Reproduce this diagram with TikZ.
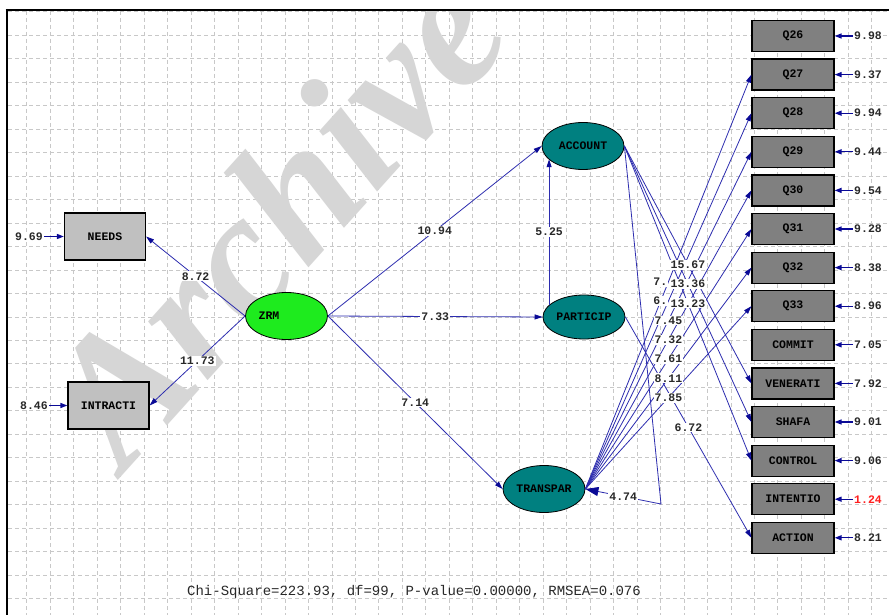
\documentclass[tikz,border=0pt]{standalone}
\usepackage{fontspec}
\setmonofont{Liberation Mono}
\newfontfamily\wmfont{Liberation Serif}
\usetikzlibrary{shapes.geometric,arrows.meta,calc}
\definecolor{lineblue}{RGB}{45,45,175}
\definecolor{headblue}{RGB}{10,10,150}
\definecolor{zrmgreen}{RGB}{30,235,30}
\definecolor{tealnode}{RGB}{0,128,128}
\definecolor{lightbox}{RGB}{192,192,192}
\definecolor{darkbox}{RGB}{128,128,128}
\definecolor{gridgray}{RGB}{200,200,200}
\definecolor{wmgray}{RGB}{214,214,214}
\definecolor{txtdark}{RGB}{40,40,40}
\definecolor{errred}{RGB}{255,30,30}
\newcommand\lisfont{\ttfamily\bfseries\fontsize{11.5}{12}\selectfont}
\tikzset{
  gridline/.style={draw=gridgray, line width=0.6pt, dash pattern=on 4pt off 3pt},
  latent/.style={ellipse, draw=black, line width=0.8pt, fill=tealnode, minimum width=82pt, minimum height=47pt, inner sep=0pt, font=\lisfont},
  zrmnode/.style={latent, fill=zrmgreen},
  obsleft/.style={rectangle, draw=black, line width=1.2pt, fill=lightbox, minimum width=81pt, minimum height=47pt, inner sep=0pt, font=\lisfont},
  obsright/.style={rectangle, draw=black, line width=1.2pt, fill=darkbox, minimum width=82pt, minimum height=31pt, inner sep=0pt, font=\lisfont},
  plainlab/.style={inner sep=0pt, font=\lisfont},
  lab/.style={fill=white, inner sep=1pt, font=\lisfont, text=txtdark},
  errlab/.style={fill=white, inner sep=1pt, font=\lisfont},
  pathline/.style={draw=lineblue, line width=0.8pt, -{Triangle[length=8pt,width=5pt,color=headblue]}},
  bigtip/.style={-{Triangle[length=13pt,width=9pt,color=headblue]}},
  errline/.style={draw=headblue, line width=1.3pt, -{Triangle[length=7pt,width=5pt,color=headblue]}},
  wm/.style={font=\wmfont\bfseries\itshape\fontsize{182}{182}\selectfont, text=wmgray, inner sep=0pt},
  fitlab/.style={font=\ttfamily\fontsize{14}{16}\selectfont, text=txtdark, inner sep=1pt}
}
\begin{document}
\begin{tikzpicture}[x=1pt,y=-1pt]
\useasboundingbox (0,0) rectangle (889,615);
\fill[white] (0,0) rectangle (889,615);
% grid
\foreach \gx in {0,...,36} \draw[gridline] ({26.7+23.47*\gx},11) -- ({26.7+23.47*\gx},615);
\foreach \gy in {0,...,25} \draw[gridline] (8,{11.7+23.47*\gy}) -- (889,{11.7+23.47*\gy});
% watermark
\begin{scope}
\clip (8,11) rectangle (889,615);
\node[wm, rotate=48, anchor=base west] (wmark) at (124,474) {Archive of SID};
\end{scope}
% frame
\draw[line width=2pt] (5.5,10) -- (889,10);
\draw[line width=2.6pt] (7,9) -- (7,615);
% nodes
\node[obsleft] (NEEDS) at (105,236.5) {NEEDS};
\node[obsleft] (INTRACTI) at (108.5,405.5) {INTRACTI};
\node[zrmnode] (ZRM) at (286.5,316) {};
\node[plainlab] (ZRMtext) at (269,316) {ZRM};
\node[latent] (ACCOUNT) at (583,146) {ACCOUNT};
\node[latent, minimum height=44pt] (PARTICIP) at (584,317) {PARTICIP};
\node[latent] (TRANSPAR) at (544,489) {TRANSPAR};
\foreach \nm/\val/\col [count=\i from 0] in {Q26/9.98/txtdark,Q27/9.37/txtdark,Q28/9.94/txtdark,Q29/9.44/txtdark,Q30/9.54/txtdark,Q31/9.28/txtdark,Q32/8.38/txtdark,Q33/8.96/txtdark,COMMIT/7.05/txtdark,VENERATI/7.92/txtdark,SHAFA/9.01/txtdark,CONTROL/9.06/txtdark,INTENTIO/1.24/errred,ACTION/8.21/txtdark}{
  \node[obsright] (\nm) at (793,{36+38.6*\i}) {\nm};
  \node[errlab, text=\col, anchor=west] (e\nm) at (853,{36+38.6*\i}) {\val};
  \draw[errline] (e\nm.west) -- (\nm.east);
}
\node[errlab, text=txtdark, anchor=east] (eNEEDS) at (44,236.5) {9.69};
\node[errlab, text=txtdark, anchor=east] (eINTRACTI) at (49,405.5) {8.46};
\draw[errline] (eNEEDS.east) -- (NEEDS.west);
\draw[errline] (eINTRACTI.east) -- (INTRACTI.west);
% structural and measurement paths
\draw[pathline] (ZRM.west) -- (NEEDS.east);
\draw[pathline] (ZRM.west) -- (INTRACTI.east);
\draw[pathline] (ZRM.east) -- (ACCOUNT.west);
\draw[pathline] (ZRM.east) -- (PARTICIP.west);
\draw[pathline] (ZRM.east) -- (TRANSPAR.west);
\draw[pathline] (PARTICIP.161) -- (PARTICIP.161 |- ACCOUNT.201);
\foreach \q in {Q27,Q28,Q29,Q30,Q31,Q32,Q33} \draw[pathline] (TRANSPAR.east) -- (\q.west);
\foreach \q in {VENERATI,SHAFA,CONTROL} \draw[pathline] (ACCOUNT.east) -- (\q.west);
\draw[pathline] (PARTICIP.east) -- (ACTION.west);
\coordinate (bend) at (661,504);
\draw[pathline, bigtip] (ACCOUNT.east) -- (bend) -- (TRANSPAR.east);
% labels
\path (ZRM.west) -- node[lab] (l1) {8.72} (NEEDS.east);
\path (ZRM.west) -- node[lab] (l2) {11.73} (INTRACTI.east);
\path (ZRM.east) -- node[lab] (l3) {10.94} (ACCOUNT.west);
\path (ZRM.east) -- node[lab] (l4) {7.33} (PARTICIP.west);
\path (ZRM.east) -- node[lab] (l5) {7.14} (TRANSPAR.west);
\path (PARTICIP.161) -- node[lab] (l6) {5.25} (PARTICIP.161 |- ACCOUNT.201);
\path (TRANSPAR.east) -- node[lab, anchor=east] (t27) {7.} (Q27.west);
\path (TRANSPAR.east) -- node[lab, anchor=east] (t28) {6.} (Q28.west);
\path (TRANSPAR.east) -- node[lab] (t29) {7.45} (Q29.west);
\path (TRANSPAR.east) -- node[lab] (t30) {7.32} (Q30.west);
\path (TRANSPAR.east) -- node[lab] (t31) {7.61} (Q31.west);
\path (TRANSPAR.east) -- node[lab] (t32) {8.11} (Q32.west);
\path (TRANSPAR.east) -- node[lab] (t33) {7.85} (Q33.west);
\path (ACCOUNT.east) -- node[lab] (a1) {15.67} (VENERATI.west);
\path (ACCOUNT.east) -- node[lab] (a2) {13.36} (SHAFA.west);
\path (ACCOUNT.east) -- node[lab] (a3) {13.23} (CONTROL.west);
\path (PARTICIP.east) -- node[lab] (p1) {6.72} (ACTION.west);
\path (bend) -- node[lab] (b1) {4.74} (TRANSPAR.east);
% fit statistics
\node[fitlab] (fit) at (414,592) {Chi-Square=223.93, df=99, P-value=0.00000, RMSEA=0.076};
\end{tikzpicture}
\end{document}
